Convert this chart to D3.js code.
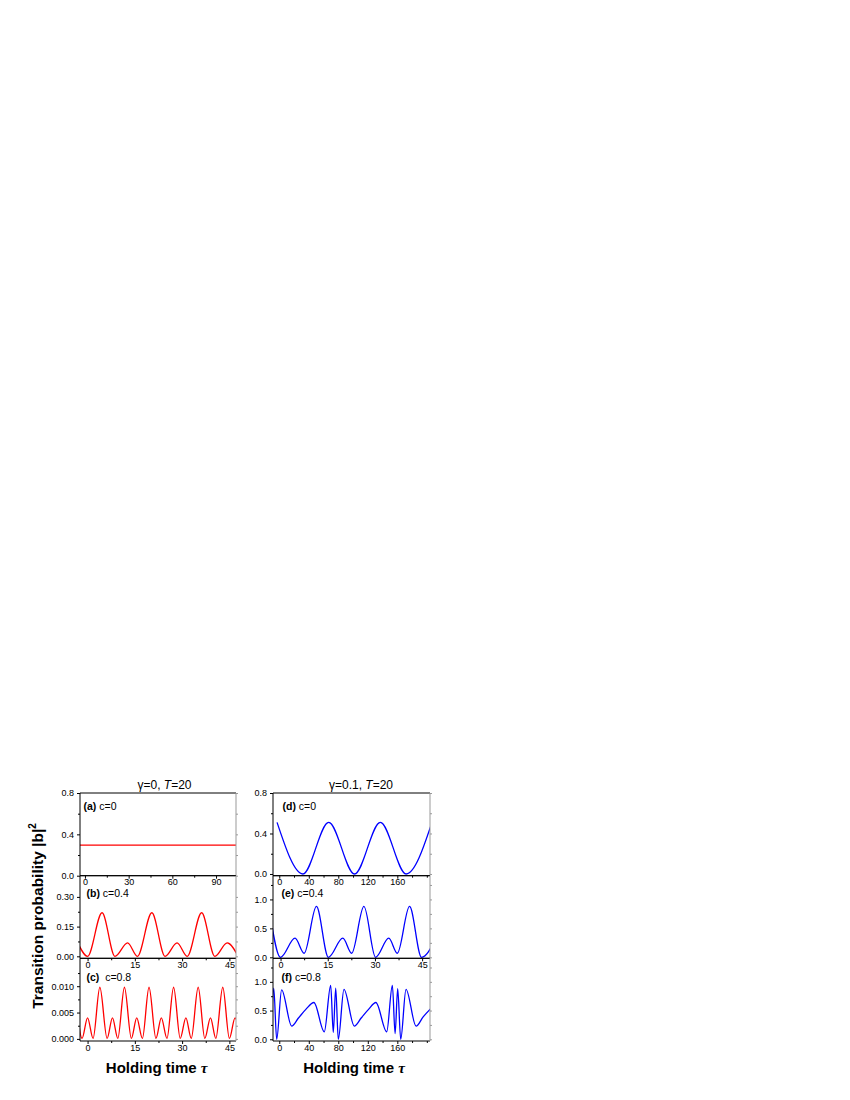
<!DOCTYPE html>
<html><head><meta charset="utf-8">
<script src="https://cdn.jsdelivr.net/npm/d3@7"></script>
<style>
body{margin:0;background:#fff}
svg{display:block}
text{font-family:"Liberation Sans",Arial,sans-serif;fill:#000}
</style>
</head><body>
<svg id="chart" width="850" height="1100"></svg>
<script>
// ---------------- data ----------------
// [holding time tau, transition probability |b|^2]
const seriesA = [[-5, 0.295], [106, 0.295]];
const seriesB = [[-3.1, 0.068], [0, 0], [4.6, 0.22], [8.7, 0], [12.7, 0.068], [15.8, 0], [20.4, 0.22], [24.6, 0],
  [28.4, 0.068], [31.6, 0], [36.2, 0.22], [40.4, 0], [44.3, 0.068], [47.8, 0]];
const seriesC = [[-3.9, 0.0098], [-1.75, 0.0001], [0.0, 0.0040], [1.75, 0.0001], [3.9, 0.0098], [6.2, 0.0001],
  [7.9, 0.0040], [9.6, 0.0001], [11.7, 0.0098], [13.9, 0.0001], [15.6, 0.0040], [17.4, 0.0001], [19.5, 0.0098],
  [21.7, 0.0001], [23.4, 0.0040], [25.2, 0.0001], [27.3, 0.0098], [29.4, 0.0001], [31.2, 0.0040], [32.9, 0.0001],
  [35.1, 0.0098], [37.2, 0.0001], [39.0, 0.0040], [40.7, 0.0001], [42.9, 0.0098], [45.0, 0.0001], [46.8, 0.0040],
  [48.5, 0.0001]];
const seriesD = [[-3, 0.51], [32, 0], [67, 0.51], [102, 0], [137, 0.51], [172, 0], [207, 0.51]];
const seriesE = [[-3.7, 0.88], [0, 0], [4.6, 0.33], [7.5, 0.07], [11.4, 0.88], [15.2, 0], [19.8, 0.33], [22.6, 0.07],
  [26.5, 0.88], [30.2, 0], [34.4, 0.33], [37.1, 0.07], [41.0, 0.88], [44.8, 0], [49.4, 0.33]];
const seriesF = [[-10.8, 0.12], [-7.5, 0.89], [-3.5, 0.0], [3.2, 0.86], [16.8, 0.23], [26, 0.37], [36, 0.52],
  [47, 0.64], [61, 0.13], [69.7, 0.94], [73.2, 0.12], [76.5, 0.89], [80, 0.0], [87.7, 0.87], [101.7, 0.23],
  [111, 0.37], [121, 0.52], [131, 0.64], [145.6, 0.13], [153.3, 0.94], [157, 0.1], [160.5, 0.88], [164.6, 0.0],
  [171.8, 0.87], [185.4, 0.23], [195, 0.39], [205, 0.53]];

// tick values
const xTicksA = [0, 30, 60, 90], xMinorA = [15, 45, 75];
const xTicksBCE = [0, 15, 30, 45], xMinorBCE = [7.5, 22.5, 37.5];
const xTicksDF = [0, 40, 80, 120, 160], xMinorDF = [20, 60, 100, 140, 180, 200];
const yTicksAD = [0, 0.4, 0.8], yMinorAD = [0.2, 0.6];
const yTicksB = [0, 0.15, 0.30], yMinorB = [0.075, 0.225];
const yTicksC = [0, 0.005, 0.010], yMinorC = [0.0025, 0.0075, 0.0125];
const yTicksEF = [0, 0.5, 1.0], yMinorEF = [0.25, 0.75, 1.25];

// labels
const panelLabels = [["(a)", " c=0"], ["(b)", " c=0.4"], ["(c)", "  c=0.8"], ["(d)", " c=0"], ["(e)", " c=0.4"], ["(f)", " c=0.8"]];
const colTitles = [["γ=0, ", "T", "=20"], ["γ=0.1, ", "T", "=20"]];
const yTitle = "Transition probability |b|";
const xTitle = "Holding time ";

// ---------------- layout ----------------
const svg = d3.select("#chart");
svg.append("rect").attr("width", 850).attr("height", 1100).attr("fill", "#fff");
const cols = [[80, 236], [273, 430]];
const rows = [793, 875.7, 958.3, 1041];
const RED = "#ff0000", BLUE = "#0000ff";

const panels = [
  {c: 0, r: 0, data: seriesA, xd: [-3.4, 103.7], yd: [0, 0.8], xt: xTicksA, xm: xMinorA, yt: yTicksAD, ym: yMinorAD, fmt: ".1f", color: RED, lab: panelLabels[0], lx: 83.5, ly: 16.5},
  {c: 0, r: 1, data: seriesB, xd: [-2.4, 47.1], yd: [-0.01, 0.407], xt: xTicksBCE, xm: xMinorBCE, yt: yTicksB, ym: yMinorB, fmt: ".2f", color: RED, lab: panelLabels[1], lx: 86.5, ly: 21.5},
  {c: 0, r: 2, data: seriesC, xd: [-2.4, 47.1], yd: [-0.0004, 0.0153], xt: xTicksBCE, xm: xMinorBCE, yt: yTicksC, ym: yMinorC, fmt: ".3f", color: RED, lab: panelLabels[2], lx: 86.5, ly: 23},
  {c: 1, r: 0, data: seriesD, xd: [-8.5, 204.3], yd: [-0.017, 0.8], xt: xTicksDF, xm: xMinorDF, yt: yTicksAD, ym: yMinorAD, fmt: ".1f", color: BLUE, lab: panelLabels[3], lx: 282.5, ly: 16.5},
  {c: 1, r: 1, data: seriesE, xd: [-2.4, 47.5], yd: [-0.017, 1.41], xt: xTicksBCE, xm: xMinorBCE, yt: yTicksEF, ym: yMinorEF, fmt: ".1f", color: BLUE, lab: panelLabels[4], lx: 281.5, ly: 21.5},
  {c: 1, r: 2, data: seriesF, xd: [-8.5, 204.3], yd: [-0.03, 1.41], xt: xTicksDF, xm: xMinorDF, yt: yTicksEF, ym: yMinorEF, fmt: ".1f", color: BLUE, lab: panelLabels[5], lx: 281.5, ly: 23}
];

panels.forEach((p, i) => {
  const x0 = cols[p.c][0], x1 = cols[p.c][1], y0 = rows[p.r], y1 = rows[p.r + 1];
  const x = d3.scaleLinear().domain(p.xd).range([x0, x1]);
  const y = d3.scaleLinear().domain(p.yd).range([y1, y0]);
  const g = svg.append("g");

  const clipId = "clip" + i;
  svg.append("clipPath").attr("id", clipId).append("rect")
    .attr("x", x0).attr("y", y0).attr("width", x1 - x0).attr("height", y1 - y0);

  const line = d3.line().x(d => x(d[0])).y(d => y(d[1])).curve(d3.curveMonotoneX);
  g.append("path").datum(p.data).attr("clip-path", `url(#${clipId})`)
    .attr("fill", "none").attr("stroke", p.color).attr("stroke-width", 1.3).attr("d", line);

  // left axis
  const la = g.append("g").attr("transform", `translate(${x0},0)`)
    .call(d3.axisLeft(y).tickValues(p.yt).tickSize(3).tickPadding(3).tickFormat(d3.format(p.fmt)));
  la.select(".domain").remove();
  g.append("g").attr("transform", `translate(${x0},0)`)
    .call(d3.axisLeft(y).tickValues(p.ym).tickSize(2).tickFormat(""))
    .select(".domain").remove();
  // right ticks
  g.append("g").attr("transform", `translate(${x1},0)`)
    .call(d3.axisRight(y).tickValues(p.yt.concat(p.ym)).tickSize(2).tickFormat(""))
    .call(s => s.select(".domain").remove())
    .selectAll("line").attr("stroke", "#999");
  // bottom axis
  const ba = g.append("g").attr("transform", `translate(0,${y1})`)
    .call(d3.axisBottom(x).tickValues(p.xt).tickSize(3).tickPadding(0.3).tickFormat(d3.format("d")));
  ba.select(".domain").remove();
  g.append("g").attr("transform", `translate(0,${y1})`)
    .call(d3.axisBottom(x).tickValues(p.xm).tickSize(2).tickFormat(""))
    .select(".domain").remove();
  g.selectAll(".tick text").attr("font-size", 9).attr("font-family", "Liberation Sans, Arial, sans-serif").attr("fill", "#000");
  g.selectAll(".tick line").filter(function(){return d3.select(this).attr("stroke") !== "#999";}).attr("stroke", "#000");

  // frame
  g.append("line").attr("x1", x0).attr("x2", x0).attr("y1", y0).attr("y2", y1).attr("stroke", "#000");
  g.append("line").attr("x1", x0).attr("x2", x1).attr("y1", y0).attr("y2", y0).attr("stroke", "#000");
  g.append("line").attr("x1", x0).attr("x2", x1).attr("y1", y1).attr("y2", y1).attr("stroke", "#000");
  g.append("line").attr("x1", x1).attr("x2", x1).attr("y1", y0).attr("y2", y1).attr("stroke", "#999");

  // panel label
  const t = g.append("text").attr("x", p.lx).attr("y", y0 + p.ly).attr("font-size", 10.5).attr("xml:space", "preserve");
  t.append("tspan").attr("font-weight", "bold").text(p.lab[0]);
  t.append("tspan").text(p.lab[1]);
});

// column titles
[164.5, 361].forEach((cx, i) => {
  const t = svg.append("text").attr("x", cx).attr("y", 789).attr("text-anchor", "middle").attr("font-size", 12);
  t.append("tspan").text(colTitles[i][0]);
  t.append("tspan").attr("font-style", "italic").text(colTitles[i][1]);
  t.append("tspan").text(colTitles[i][2]);
});

// y title
const yt = svg.append("text").attr("transform", "translate(43,916) rotate(-90)")
  .attr("text-anchor", "middle").attr("font-size", 15.5).attr("font-weight", "bold");
yt.append("tspan").text(yTitle);
yt.append("tspan").attr("font-size", 10).attr("dy", -7).text("2");

// x titles
[156.7, 354].forEach(cx => {
  const t = svg.append("text").attr("x", cx).attr("y", 1073).attr("text-anchor", "middle")
    .attr("font-size", 15).attr("font-weight", "bold");
  t.append("tspan").text(xTitle);
  t.append("tspan").attr("font-family", "Liberation Serif, serif").attr("font-style", "italic").text("τ");
});
</script>
</body></html>
